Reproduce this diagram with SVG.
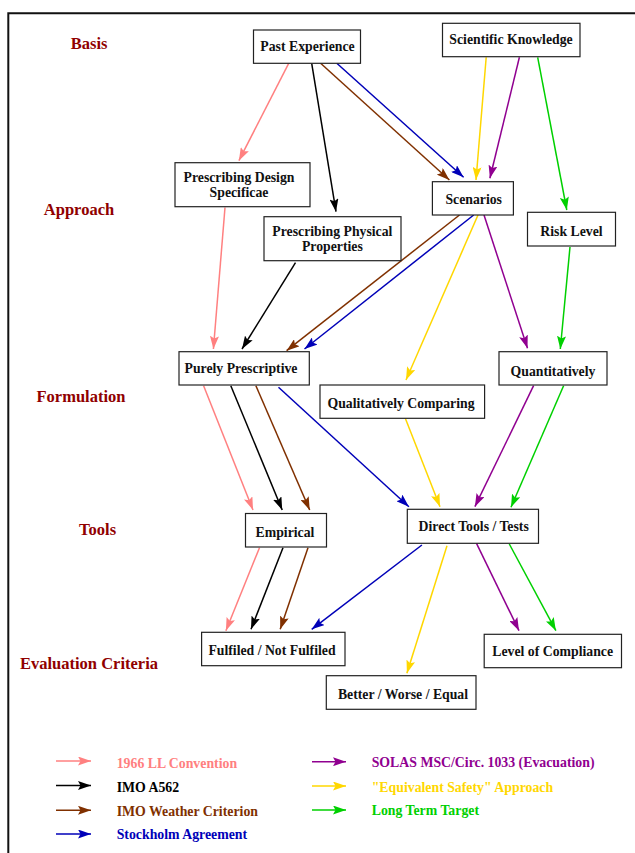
<svg xmlns="http://www.w3.org/2000/svg" width="635" height="853" viewBox="0 0 635 853">
<style>
.bx{fill:#fff;stroke:#222;stroke-width:1.2}
.nt{font-family:"Liberation Serif","Times New Roman",serif;font-weight:bold;font-size:13.75px;fill:#111;text-anchor:middle}
.lb{font-family:"Liberation Serif","Times New Roman",serif;font-weight:bold;font-size:16.5px;fill:#900000;text-anchor:middle}
.lg{font-family:"Liberation Serif","Times New Roman",serif;font-weight:bold;font-size:13.8px}
.c{fill:none;stroke-width:1.5}
.pk{stroke:#ff8080;marker-end:url(#apk)}
.bk{stroke:#000;marker-end:url(#abk)}
.br{stroke:#803000;marker-end:url(#abr)}
.bl{stroke:#0000b8;marker-end:url(#abl)}
.ye{stroke:#ffd700;marker-end:url(#aye)}
.pu{stroke:#900090;marker-end:url(#apu)}
.gr{stroke:#00d000;marker-end:url(#agr)}
</style>
<defs>
<path id="ah" d="M0,0 L13,4.5 L0,9 L2.5,4.5 Z"/>
<marker id="apk" markerUnits="userSpaceOnUse" markerWidth="14" markerHeight="9" refX="13" refY="4.5" orient="auto"><use href="#ah" fill="#ff8080"/></marker>
<marker id="abk" markerUnits="userSpaceOnUse" markerWidth="14" markerHeight="9" refX="13" refY="4.5" orient="auto"><use href="#ah" fill="#000"/></marker>
<marker id="abr" markerUnits="userSpaceOnUse" markerWidth="14" markerHeight="9" refX="13" refY="4.5" orient="auto"><use href="#ah" fill="#803000"/></marker>
<marker id="abl" markerUnits="userSpaceOnUse" markerWidth="14" markerHeight="9" refX="13" refY="4.5" orient="auto"><use href="#ah" fill="#0000b8"/></marker>
<marker id="aye" markerUnits="userSpaceOnUse" markerWidth="14" markerHeight="9" refX="13" refY="4.5" orient="auto"><use href="#ah" fill="#ffd700"/></marker>
<marker id="apu" markerUnits="userSpaceOnUse" markerWidth="14" markerHeight="9" refX="13" refY="4.5" orient="auto"><use href="#ah" fill="#900090"/></marker>
<marker id="agr" markerUnits="userSpaceOnUse" markerWidth="14" markerHeight="9" refX="13" refY="4.5" orient="auto"><use href="#ah" fill="#00d000"/></marker>
</defs>
<rect width="635" height="853" fill="#fff"/>
<path d="M8.3,860 V13.3 H640" fill="none" stroke="#111" stroke-width="2"/>

<g id="levels">
<text class="lb" x="89.2" y="48.7">Basis</text>
<text class="lb" x="79" y="214.5">Approach</text>
<text class="lb" x="81" y="401.7">Formulation</text>
<text class="lb" x="97.6" y="535">Tools</text>
<text class="lb" x="89" y="669.3">Evaluation Criteria</text>
</g>

<g id="connectors">
<line class="c pk" x1="288.7" y1="63.3" x2="238.9" y2="160.7"/>
<line class="c bk" x1="311.7" y1="63.3" x2="336" y2="211.7"/>
<line class="c br" x1="320.6" y1="63.3" x2="449.4" y2="180"/>
<line class="c bl" x1="336.8" y1="63.3" x2="463.6" y2="177.3"/>
<line class="c ye" x1="486.2" y1="57.3" x2="476" y2="180"/>
<line class="c pu" x1="519.4" y1="57.3" x2="489.9" y2="178.3"/>
<line class="c gr" x1="537.7" y1="57.3" x2="566.8" y2="210"/>
<line class="c pk" x1="225" y1="207.5" x2="213.4" y2="349"/>
<line class="c bk" x1="295.5" y1="262.7" x2="242" y2="349"/>
<line class="c br" x1="459.5" y1="215" x2="286.6" y2="350.7"/>
<line class="c bl" x1="473.7" y1="215" x2="304.5" y2="349"/>
<line class="c ye" x1="478" y1="215" x2="406" y2="380"/>
<line class="c pu" x1="484" y1="215" x2="527.5" y2="348.3"/>
<line class="c gr" x1="570" y1="247" x2="560.3" y2="349"/>
<line class="c pk" x1="203.6" y1="385.7" x2="253" y2="510"/>
<line class="c bk" x1="230.8" y1="385.7" x2="282.2" y2="510"/>
<line class="c br" x1="255.9" y1="385.7" x2="309.7" y2="510"/>
<line class="c bl" x1="278.5" y1="387.3" x2="408.9" y2="506.7"/>
<line class="c ye" x1="405.3" y1="418.3" x2="440" y2="506.7"/>
<line class="c pu" x1="533.6" y1="385.7" x2="474.9" y2="506.7"/>
<line class="c gr" x1="563.6" y1="385.7" x2="511" y2="507.3"/>
<line class="c pk" x1="259.5" y1="547.7" x2="225.9" y2="630.7"/>
<line class="c bk" x1="283" y1="547.7" x2="251" y2="629.3"/>
<line class="c br" x1="308" y1="547.7" x2="280.2" y2="629.3"/>
<line class="c bl" x1="421.9" y1="545" x2="311.7" y2="629.3"/>
<line class="c ye" x1="447" y1="545.7" x2="406.9" y2="673.3"/>
<line class="c pu" x1="476.5" y1="543.3" x2="519" y2="630.7"/>
<line class="c gr" x1="509.3" y1="544" x2="555.9" y2="630.7"/>
</g>

<g id="past-experience"><rect class="bx" x="253.5" y="30" width="107" height="33.3"/><text class="nt" x="307.5" y="50.8">Past Experience</text></g>
<g id="scientific-knowledge"><rect class="bx" x="442.5" y="23.3" width="137.5" height="33.4"/><text class="nt" x="511" y="44.3">Scientific Knowledge</text></g>
<g id="prescribing-design"><rect class="bx" x="175" y="162.7" width="135" height="44"/><text class="nt" x="239" y="181.5">Prescribing Design<tspan x="239" dy="15.5">Specificae</tspan></text></g>
<g id="scenarios"><rect class="bx" x="432.4" y="181.7" width="81" height="33.3"/><text class="nt" x="473.7" y="203.5">Scenarios</text></g>
<g id="prescribing-physical"><rect class="bx" x="264" y="216.7" width="137" height="44"/><text class="nt" x="332.4" y="235.5">Prescribing Physical<tspan x="332.4" dy="15.5">Properties</tspan></text></g>
<g id="risk-level"><rect class="bx" x="527.5" y="212.3" width="88" height="33.7"/><text class="nt" x="571.5" y="235.5">Risk Level</text></g>
<g id="purely-prescriptive"><rect class="bx" x="179" y="351.7" width="130.3" height="33.3"/><text class="nt" x="241" y="373.3">Purely Prescriptive</text></g>
<g id="quantitatively"><rect class="bx" x="499" y="351.7" width="108" height="33.3"/><text class="nt" x="553" y="375.5">Quantitatively</text></g>
<g id="qualitatively-comparing"><rect class="bx" x="320" y="385" width="164.6" height="33.3"/><text class="nt" x="401" y="408.3">Qualitatively Comparing</text></g>
<g id="empirical"><rect class="bx" x="245.5" y="513.5" width="81" height="33.5"/><text class="nt" x="285" y="536.5">Empirical</text></g>
<g id="direct-tools"><rect class="bx" x="407.3" y="509.3" width="131.2" height="34"/><text class="nt" x="473.7" y="531">Direct Tools / Tests</text></g>
<g id="fulfiled"><rect class="bx" x="201.6" y="632.3" width="143.4" height="33.4"/><text class="nt" x="272" y="655">Fulfiled / Not Fulfiled</text></g>
<g id="level-of-compliance"><rect class="bx" x="484.2" y="634.3" width="137.3" height="33.4"/><text class="nt" x="552.7" y="655.5">Level of Compliance</text></g>
<g id="better-worse-equal"><rect class="bx" x="326.3" y="675.7" width="149.7" height="33.6"/><text class="nt" x="403" y="699">Better / Worse / Equal</text></g>

<g id="legend">
<line class="c pk" x1="56" y1="761" x2="91" y2="761"/>
<line class="c bk" x1="56" y1="785.5" x2="91" y2="785.5"/>
<line class="c br" x1="56" y1="810.3" x2="91" y2="810.3"/>
<line class="c bl" x1="56" y1="834" x2="91" y2="834"/>
<line class="c pu" x1="312" y1="761.7" x2="346" y2="761.7"/>
<line class="c ye" x1="312" y1="786" x2="346" y2="786"/>
<line class="c gr" x1="312" y1="810" x2="346" y2="810"/>
<text class="lg" x="116.7" y="767.7" fill="#ff8080">1966 LL Convention</text>
<text class="lg" x="116.7" y="791.7" fill="#000">IMO A562</text>
<text class="lg" x="116.7" y="815.7" fill="#803000">IMO Weather Criterion</text>
<text class="lg" x="116.7" y="839.3" fill="#0000b8">Stockholm Agreement</text>
<text class="lg" x="371.7" y="767.3" fill="#900090">SOLAS MSC/Circ. 1033 (Evacuation)</text>
<text class="lg" x="371.7" y="791.7" fill="#ffd700">"Equivalent Safety" Approach</text>
<text class="lg" x="371.7" y="815" fill="#00d000">Long Term Target</text>
</g>
</svg>
